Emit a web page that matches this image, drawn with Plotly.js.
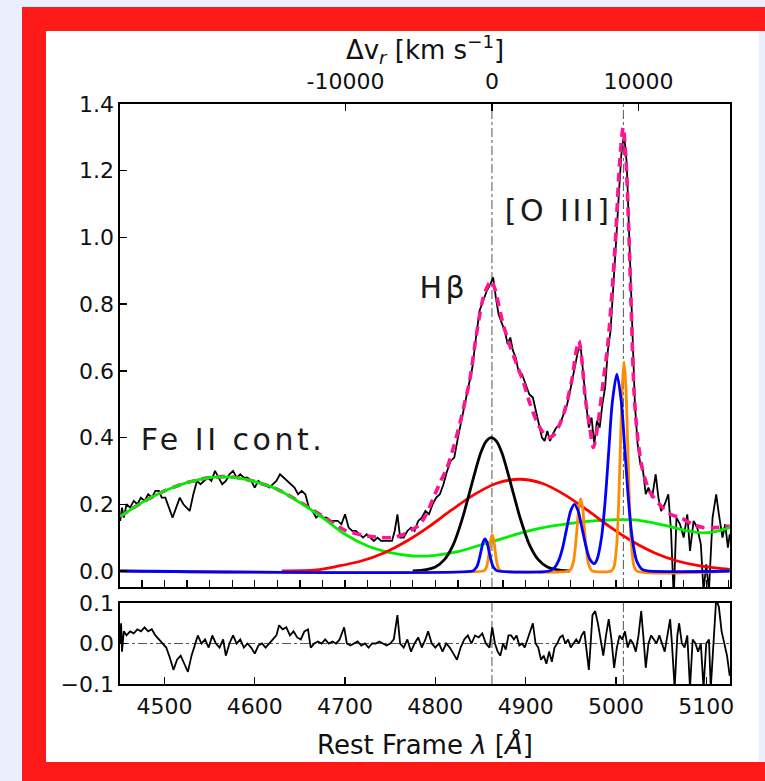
<!DOCTYPE html>
<html><head><meta charset="utf-8">
<script src="https://cdn.plot.ly/plotly-3.0.1.min.js"></script>
<style>
html,body{margin:0;padding:0;background:#ebeefc;width:765px;height:781px;overflow:hidden;}
#frame{position:absolute;left:22px;top:7px;width:800px;height:731px;border:24px solid #ff1a1a;}
#plot{position:absolute;left:46px;top:31px;width:713px;height:731px;background:#fff;}
</style></head><body>
<div id="frame"></div><div id="plot"></div>
<script>
// ---------------- data ----------------
const obsWave = [4451,4453,4455,4458,4462,4466,4470,4474,4478,4482,4486,4490,4494,4497,4501,4505,4509,4513,4517,4521,4525,4528,4532,4536,4540,4544,4548,4552,4556,4560,4564,4568,4572,4576,4580,4584,4588,4592,4596,4600,4604,4608,4612,4616,4620,4624,4628,4632,4636,4640,4644,4648,4652,4656,4660,4664,4668,4672,4676,4680,4684,4688,4692,4696,4700,4704,4708,4712,4716,4720,4724,4728,4732,4736,4740,4744,4748,4752,4755,4758,4761,4765,4769,4773,4777,4781,4785,4789,4793,4797,4801,4805,4809,4813,4817,4821,4825,4829,4833,4837,4841,4845,4849,4853,4857,4861,4864,4867,4870,4874,4877,4880,4883,4886,4889,4892,4896,4900,4904,4908,4912,4915,4918,4921,4924,4927,4930,4934,4938,4942,4946,4950,4954,4958,4961,4964,4967,4970,4973,4976,4979,4982,4985,4988,4991,4994,4997,5000,5003,5006,5009,5012,5015,5018,5021,5024,5027,5030,5033,5036,5040,5044,5047,5050,5054,5058,5061,5064,5067,5071,5075,5079,5082,5086,5090,5094,5097,5100,5103,5107,5111,5114,5118,5121,5124,5126];
const obsFlux = [0.15,0.19,0.16,0.20,0.19,0.21,0.20,0.22,0.21,0.23,0.22,0.24,0.24,0.22,0.22,0.19,0.16,0.19,0.22,0.20,0.19,0.18,0.23,0.27,0.26,0.27,0.28,0.27,0.30,0.28,0.26,0.27,0.29,0.30,0.28,0.29,0.28,0.28,0.27,0.25,0.27,0.26,0.26,0.25,0.26,0.27,0.29,0.28,0.27,0.26,0.25,0.23,0.24,0.23,0.19,0.18,0.16,0.17,0.16,0.16,0.15,0.15,0.15,0.14,0.17,0.13,0.12,0.12,0.11,0.10,0.11,0.10,0.09,0.10,0.09,0.09,0.09,0.09,0.12,0.17,0.10,0.10,0.12,0.13,0.12,0.15,0.16,0.18,0.17,0.20,0.22,0.23,0.26,0.30,0.33,0.34,0.40,0.45,0.50,0.55,0.61,0.70,0.78,0.81,0.84,0.86,0.88,0.82,0.77,0.74,0.72,0.68,0.70,0.66,0.64,0.60,0.59,0.56,0.53,0.52,0.47,0.44,0.40,0.39,0.42,0.39,0.41,0.43,0.44,0.47,0.50,0.55,0.60,0.66,0.67,0.58,0.50,0.43,0.46,0.38,0.45,0.43,0.50,0.55,0.66,0.72,0.84,0.98,1.12,1.25,1.31,1.22,0.98,0.72,0.50,0.38,0.32,0.30,0.23,0.25,0.22,0.29,0.22,0.18,0.20,0.23,0.12,-0.08,0.16,0.14,0.10,0.17,0.06,0.15,0.13,0.08,-0.06,0.02,-0.06,0.16,0.23,0.17,0.10,0.14,0.07,0.11];

const modelWave = [4451,4475,4500,4525,4550,4565,4580,4600,4625,4650,4675,4700,4725,4750,4765,4775,4783,4790,4798,4806,4813,4820,4827,4833,4838,4845,4853,4858,4862,4866,4870,4875,4882,4890,4897,4905,4912,4918,4925,4932,4942,4951,4956,4959,4962,4966,4971,4975,4980,4986,4991,4996,5000,5004,5008,5011,5014,5017,5020,5024,5029,5037,5048,5060,5071,5085,5097,5110,5126];
const modelFlux = [0.163,0.205,0.24,0.265,0.28,0.283,0.28,0.268,0.245,0.207,0.165,0.122,0.105,0.10,0.11,0.125,0.14,0.17,0.22,0.27,0.31,0.37,0.44,0.51,0.57,0.70,0.82,0.855,0.87,0.845,0.80,0.74,0.68,0.62,0.57,0.50,0.45,0.42,0.40,0.41,0.47,0.57,0.66,0.69,0.64,0.52,0.43,0.37,0.44,0.57,0.68,0.85,1.02,1.22,1.33,1.24,1.04,0.78,0.54,0.40,0.31,0.24,0.20,0.17,0.16,0.14,0.13,0.13,0.135];

const feWave = [4451,4475,4500,4525,4550,4565,4580,4600,4625,4650,4675,4700,4725,4750,4775,4800,4825,4850,4875,4900,4925,4950,4975,5000,5020,5040,5060,5080,5095,5110,5126];
const feFlux = [0.163,0.205,0.24,0.265,0.28,0.282,0.279,0.268,0.245,0.205,0.16,0.11,0.075,0.055,0.045,0.047,0.058,0.078,0.098,0.118,0.133,0.143,0.15,0.154,0.153,0.145,0.133,0.12,0.114,0.118,0.13];

const broadWave = [4630,4668,4693,4718,4743,4768,4793,4818,4843,4868,4893,4918,4943,4968,4993,5018,5043,5068,5093,5118,5126];
const broadFlux = [0.0,0.003,0.015,0.030,0.054,0.089,0.133,0.183,0.229,0.263,0.275,0.263,0.229,0.183,0.133,0.089,0.054,0.030,0.015,0.007,0.005];

const hbWave = [4775,4790,4800,4810,4820,4830,4840,4850,4856,4862,4868,4874,4884,4894,4904,4914,4924,4934,4949];
const hbFlux = [0.0,0.004,0.012,0.034,0.080,0.158,0.257,0.352,0.388,0.40,0.388,0.352,0.257,0.158,0.080,0.034,0.012,0.004,0.0];

const narrowWave = [4451,4853,4855,4857,4858.5,4860,4861.5,4863,4864.5,4866,4867.5,4869,4871,4873,4948,4950,4953,4955,4957,4959,4961,4963,4965,4967,4969,4972,4974,4995,4998,5001,5003,5005,5007,5009,5011,5013,5015,5017,5020,5023,5126];
const narrowFlux = [0,0,0.003,0.015,0.035,0.066,0.095,0.108,0.095,0.066,0.035,0.015,0.003,0,0,0.005,0.029,0.070,0.131,0.191,0.216,0.191,0.131,0.070,0.029,0.005,0,0,0.014,0.085,0.204,0.380,0.553,0.627,0.553,0.380,0.204,0.085,0.014,0,0];

const wingWave = [4451,4841,4843,4846,4848,4850.5,4853,4855,4857,4859.5,4862,4864,4867,4869,4926,4932,4937,4941,4945,4950,4954,4958,4963,4967,4971,4976,4979,4984,4988,4992,4996,5001,5006,5010,5014,5018,5023,5029,5035,5126];
const wingFlux = [0,0,0.003,0.013,0.029,0.058,0.087,0.096,0.087,0.058,0.029,0.013,0.003,0,0,0.01,0.034,0.07,0.121,0.181,0.20,0.181,0.121,0.072,0.036,0.022,0.034,0.10,0.208,0.358,0.506,0.59,0.506,0.358,0.208,0.099,0.03,0.005,0,0];

const residWave = [4451,4452,4453,4455,4458,4462,4466,4470,4474,4478,4482,4486,4490,4494,4498,4502,4506,4510,4514,4518,4522,4526,4530,4534,4537,4541,4545,4549,4553,4557,4561,4565,4568,4572,4576,4580,4584,4588,4592,4596,4600,4604,4608,4612,4616,4620,4624,4627,4631,4635,4639,4643,4647,4651,4655,4659,4662,4666,4670,4674,4678,4682,4686,4690,4694,4699,4702,4706,4710,4714,4718,4722,4726,4730,4734,4738,4742,4746,4750,4754,4758,4761,4765,4769,4773,4777,4781,4785,4789,4792,4796,4800,4804,4808,4812,4816,4820,4824,4828,4832,4836,4840,4844,4848,4852,4856,4860,4863,4866,4869,4872,4875,4878,4881,4884,4887,4890,4893,4896,4899,4902,4905,4908,4911,4914,4917,4920,4923,4926,4929,4932,4935,4938,4941,4944,4947,4950,4953,4956,4959,4962,4965,4968,4970,4972,4974,4977,4980,4983,4986,4989,4992,4995,4998,5001,5004,5007,5010,5013,5016,5019,5022,5025,5028,5031,5033,5036,5039,5042,5045,5048,5051,5054,5057,5060,5062,5065,5068,5070,5073,5076,5079,5082,5085,5088,5091,5094,5097,5100,5103,5105,5108,5111,5114,5117,5120,5123,5126];
const residFlux = [0.0,0.05,-0.02,0.03,0.02,0.03,0.025,0.035,0.03,0.04,0.03,0.035,0.02,0.01,0.0,-0.01,-0.035,-0.065,-0.04,-0.03,-0.05,-0.07,-0.03,0.0,0.02,0.0,0.01,-0.01,0.02,0.0,-0.01,0.01,-0.03,0.0,0.02,0.0,0.01,-0.01,0.0,-0.01,-0.025,-0.005,0.0,-0.01,0.0,0.01,0.02,0.045,0.035,0.04,0.02,0.03,0.015,0.01,0.03,0.035,-0.01,0.0,0.005,0.0,0.01,0.0,0.005,0.0,0.01,0.04,0.0,-0.005,0.0,0.005,-0.005,0.0,-0.01,0.0,0.0,0.005,0.0,-0.005,0.0,0.01,0.07,0.0,-0.01,0.01,-0.02,0.0,0.015,-0.01,0.01,0.03,0.0,-0.01,0.0,-0.02,0.0,-0.01,-0.025,-0.04,-0.01,0.01,0.02,0.0,0.02,0.015,0.025,0.0,-0.01,0.04,0.0,-0.02,-0.03,0.0,-0.015,0.02,0.02,0.01,0.02,-0.005,0.0,-0.01,0.01,0.03,0.05,0.0,-0.01,-0.04,-0.03,-0.05,-0.02,-0.045,-0.01,0.0,0.015,0.02,0.0,0.01,-0.01,0.0,0.01,0.0,0.02,0.03,-0.02,-0.065,0.0,0.07,0.08,0.05,0.01,-0.03,0.02,0.06,0.01,-0.06,-0.01,0.02,0.01,0.03,-0.01,0.01,0.0,-0.02,0.02,0.08,0.0,-0.06,0.0,0.02,0.01,0.0,0.02,0.0,-0.02,0.02,0.06,0.0,-0.11,0.02,0.05,0.0,-0.01,0.02,-0.11,0.01,0.0,-0.02,0.0,-0.11,0.0,0.01,-0.11,0.0,0.11,0.09,0.03,0.0,-0.03,-0.08];

const refLines = [4862.68, 5008.24];          // H-beta and [O III] 5007 rest wavelengths
const restHb = 4862.68;
const lightSpeed = 299792.458;
const topTicks = [-10000, 0, 10000];
const topTickText = ['-10000', '0', '10000'];
const yTicks = [0, 0.2, 0.4, 0.6, 0.8, 1.0, 1.2, 1.4];
const resTicks = [-0.1, 0, 0.1];
const resTickText = ['\u22120.1', '0.0', '0.1'];
const labels = [
  {text: 'H\u03b2', x: 4810, y: 0.85},
  {text: '[O III]', x: 4936, y: 1.08},
  {text: 'Fe II cont.', x: 4576, y: 0.393}
];

// ---------------- figure ----------------
const xRange = [4450.8, 5126.3];
const vRange = xRange.map(l => (l - restHb) / restHb * lightSpeed);
const annFont = {family: '"DejaVu Sans", sans-serif', size: 30, color: '#1a1a1a'};
const tickFont = {family: '"DejaVu Sans", sans-serif', size: 22, color: '#111'};
const titleFont = {family: '"DejaVu Sans", sans-serif', size: 26, color: '#111'};

const mk = (x, y, color, width, extra) => Object.assign({
  x: x, y: y, type: 'scatter', mode: 'lines', xaxis: 'x', yaxis: 'y',
  line: {color: color, width: width, shape: 'spline', smoothing: 0.8},
  hoverinfo: 'skip', showlegend: false
}, extra || {});

const traces = [
  mk(obsWave, obsFlux, '#000', 1.8, {line: {color: '#000', width: 1.8, shape: 'linear'}}),
  mk(modelWave, modelFlux, '#ff1493', 3.6, {line: {color: '#ff1493', width: 3.6, dash: '9px,6px', shape: 'spline', smoothing: 0.8}}),
  mk(feWave, feFlux, '#00ee00', 2.8),
  mk(broadWave, broadFlux, '#ff0000', 2.8),
  mk(hbWave, hbFlux, '#000000', 2.8),
  mk(narrowWave, narrowFlux, '#ff8c00', 2.8),
  mk(wingWave, wingFlux, '#0000ff', 2.8),
  mk(residWave, residFlux, '#000', 1.8, {xaxis: 'x2', yaxis: 'y2', line: {color: '#000', width: 1.8, shape: 'linear'}}),
  {x: topTicks, y: topTicks.map(() => null), xaxis: 'x3', yaxis: 'y', type: 'scatter', mode: 'lines', hoverinfo: 'skip', showlegend: false}
];

const shapes = [];
refLines.forEach(l => {
  shapes.push({type: 'line', xref: 'x', yref: 'y domain', x0: l, x1: l, y0: 0, y1: 1, layer: 'below', line: {color: '#555', width: 1, dash: 'dashdot'}});
  shapes.push({type: 'line', xref: 'x2', yref: 'y2 domain', x0: l, x1: l, y0: 0, y1: 1, layer: 'below', line: {color: '#555', width: 1, dash: 'dashdot'}});
});
shapes.push({type: 'line', xref: 'x2 domain', yref: 'y2', x0: 0, x1: 1, y0: 0, y1: 0, layer: 'below', line: {color: '#555', width: 1, dash: 'dashdot'}});

const axisBase = {showgrid: false, zeroline: false, showline: true, linecolor: '#000', linewidth: 1.6,
  mirror: true, ticks: 'inside', ticklen: 7, tickwidth: 1.3, tickcolor: '#000'};

const layout = {
  width: 713, height: 731,
  margin: {l: 74, r: 29, t: 73, b: 78},
  paper_bgcolor: '#fff', plot_bgcolor: '#fff',
  font: tickFont,
  xaxis: Object.assign({}, axisBase, {range: xRange, anchor: 'y', tick0: 4450, dtick: 25, showticklabels: false}),
  yaxis: Object.assign({}, axisBase, {range: [-0.048, 1.4], domain: [0.16724, 1], anchor: 'x', tickvals: yTicks, tickformat: '.1f', tickfont: tickFont, ticklabelstandoff: 0}),
  xaxis2: Object.assign({}, axisBase, {range: xRange, anchor: 'y2', tick0: 4500, dtick: 100, tickfont: tickFont, ticklabelstandoff: 2,
    title: {text: 'Rest Frame <i>\u03bb</i> [<i>\u00c5</i>]', font: titleFont, standoff: 18}}),
  yaxis2: Object.assign({}, axisBase, {range: [-0.1, 0.1], domain: [0, 0.13966], anchor: 'x2', tickvals: resTicks, ticktext: resTickText, tickfont: tickFont, ticklabelstandoff: 0}),
  xaxis3: {overlaying: 'x', side: 'top', anchor: 'y', range: vRange, showgrid: false, zeroline: false, showline: false,
    ticks: 'inside', ticklen: 7, tickwidth: 1.3, tickcolor: '#000', tickvals: topTicks, ticktext: topTickText, tickfont: tickFont, ticklabelstandoff: 10,
    title: {text: '\u0394v<sub><i>r</i></sub> [km s<sup>\u22121</sup>]', font: titleFont, standoff: 5}},
  shapes: shapes,
  annotations: labels.map(a => ({text: a.text, x: a.x, y: a.y, xref: 'x', yref: 'y', showarrow: false,
    xanchor: 'center', yanchor: 'middle', font: annFont}))
};

Plotly.newPlot('plot', traces, layout, {displayModeBar: false, staticPlot: true}).then(gd => {
  gd.querySelectorAll('.annotation-text').forEach(t => t.setAttribute('letter-spacing', '3.5'));
});
</script></body></html>
